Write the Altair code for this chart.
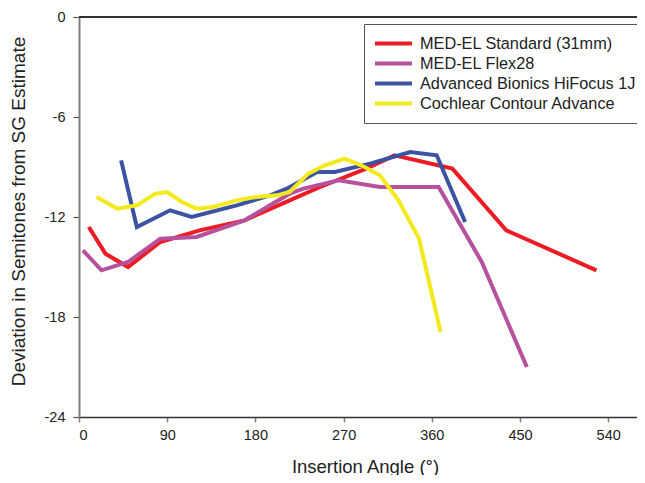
import altair as alt
import pandas as pd

series_names = [
    "MED-EL Standard (31mm)",
    "MED-EL Flex28",
    "Advanced Bionics HiFocus 1J",
    "Cochlear Contour Advance",
]
series_colors = ["#ED1C24", "#B6519D", "#3A53A3", "#F2EA1C"]

std_angle = [10, 27, 50, 83, 123, 169, 215, 246, 293, 322, 381, 436, 528]
std_dev = [-12.6, -14.2, -15.0, -13.5, -12.8, -12.2, -11.0, -10.2, -9.1, -8.3, -9.1, -12.8, -15.2]

flex_angle = [4, 23, 50, 83, 120, 169, 192, 215, 229, 265, 307, 367, 411, 457]
flex_dev = [-14.0, -15.2, -14.7, -13.3, -13.2, -12.2, -11.4, -10.6, -10.3, -9.8, -10.2, -10.2, -14.7, -21.0]

ab_angle = [43, 59, 93, 115, 161, 195, 212, 243, 261, 297, 338, 365, 394]
ab_dev = [-8.6, -12.6, -11.6, -12.0, -11.3, -10.7, -10.3, -9.3, -9.3, -8.8, -8.1, -8.3, -12.3]

ca_angle = [18, 39, 59, 78, 90, 105, 120, 137, 161, 181, 202, 215, 234, 251, 271, 288, 307, 326, 347, 369]
ca_dev = [-10.8, -11.5, -11.3, -10.6, -10.5, -11.1, -11.5, -11.4, -11.0, -10.8, -10.7, -10.5, -9.4,
          -8.9, -8.5, -8.9, -9.5, -11.0, -13.3, -18.9]

x_ticks = [0, 90, 180, 270, 360, 450, 540]
y_ticks = [-24, -18, -12, -6, 0]

rows = []
for name, xs, ys in zip(series_names,
                        [std_angle, flex_angle, ab_angle, ca_angle],
                        [std_dev, flex_dev, ab_dev, ca_dev]):
    for i, (a, d) in enumerate(zip(xs, ys)):
        rows.append({"series": name, "angle": a, "dev": d, "idx": i})
df = pd.DataFrame(rows)

FONT = "Liberation Sans"

lines = alt.Chart(df).mark_line(strokeWidth=4, strokeCap="butt").encode(
    x=alt.X("angle:Q",
            scale=alt.Scale(domain=[0, 569.4], nice=False, zero=False),
            axis=alt.Axis(values=x_ticks, title="Insertion Angle (°)", grid=False,
                          domainColor="#333333", domainWidth=1.5,
                          tickColor="#808080", tickWidth=1.5, tickSize=5,
                          labelFont=FONT, labelFontSize=14.5, labelColor="#222222",
                          labelPadding=6,
                          titleFont=FONT, titleFontSize=18.5, titleFontWeight="normal",
                          titleColor="#222222", titleX=286, titleY=55,
                          titleBaseline="alphabetic", titleAlign="center")),
    y=alt.Y("dev:Q",
            scale=alt.Scale(domain=[-24, 0], nice=False, zero=False),
            axis=alt.Axis(values=y_ticks, title="Deviation in Semitones from SG Estimate",
                          grid=False, labelExpr="'' + datum.value",
                          domainColor="#808080", domainWidth=2,
                          tickColor="#555555", tickWidth=1.2, tickSize=6,
                          labelFont=FONT, labelFontSize=14.5, labelColor="#222222",
                          labelPadding=8,
                          titleFont=FONT, titleFontSize=19, titleFontWeight="normal",
                          titleColor="#222222", titleX=-61, titleY=194,
                          titleAngle=270, titleBaseline="middle", titleAlign="center")),
    color=alt.Color("series:N",
                    scale=alt.Scale(domain=series_names, range=series_colors),
                    legend=alt.Legend(title=None, orient="none", legendX=285, legendY=7,
                                      symbolType="M-1.31,0H4.38", symbolSize=169,
                                      symbolStrokeWidth=4,
                                      labelFont=FONT, labelFontSize=16.3, labelColor="#222222",
                                      labelLimit=400, rowPadding=3,
                                      labelOffset=28, padding=11,
                                      strokeColor="#555555", fillColor="white",
                                      cornerRadius=0)),
    order=alt.Order("idx:Q"),
    detail="series:N",
)

top_rule = alt.Chart(df).mark_rule(color="#333333", strokeWidth=1.5).encode(
    y=alt.datum(0)
)

chart = alt.layer(top_rule, lines).properties(
    width=558, height=400,
    autosize=alt.AutoSizeParams(type="none"),
    padding={"left": 71, "top": 9, "right": 0, "bottom": 58},
).configure_view(stroke=None)

chart.save("out.html", embed_options={"renderer": "svg", "actions": False})
